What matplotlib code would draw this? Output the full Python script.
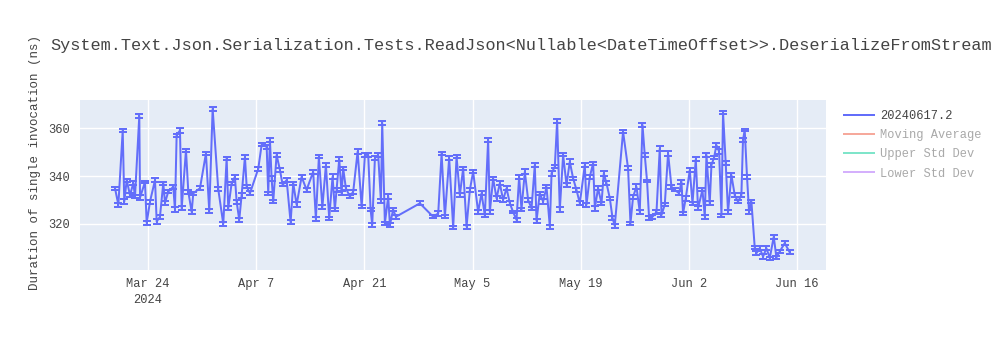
import matplotlib
matplotlib.use("Agg")
import matplotlib.pyplot as plt
import matplotlib.dates as mdates
from matplotlib.lines import Line2D
import pandas as pd

title = "System.Text.Json.Serialization.Tests.ReadJson<Nullable<DateTimeOffset>>.DeserializeFromStream"
y_label = "Duration of single invocation (ns)"
series_name = "20240617.2"
hidden_names = ["Moving Average", "Upper Std Dev", "Lower Std Dev"]

dates = [
    "2024-03-19 17:30", "2024-03-20 04:00", "2024-03-20 17:30", "2024-03-20 22:20", "2024-03-21 06:00",
    "2024-03-21 16:00", "2024-03-22 02:30", "2024-03-22 07:40", "2024-03-22 21:00", "2024-03-22 23:20",
    "2024-03-23 14:40", "2024-03-23 20:00", "2024-03-24 06:10", "2024-03-24 21:50", "2024-03-25 03:00",
    "2024-03-25 13:10", "2024-03-25 23:30", "2024-03-26 04:50", "2024-03-26 15:00", "2024-03-27 06:30",
    "2024-03-27 11:50", "2024-03-27 17:00", "2024-03-28 03:20", "2024-03-28 08:40", "2024-03-28 22:00",
    "2024-03-29 05:10", "2024-03-29 15:40", "2024-03-29 20:40", "2024-03-30 17:30", "2024-03-31 12:00",
    "2024-03-31 22:20", "2024-04-01 08:50", "2024-04-02 02:10", "2024-04-02 17:50", "2024-04-03 04:20",
    "2024-04-03 09:20", "2024-04-03 19:50", "2024-04-04 06:00", "2024-04-04 11:20", "2024-04-04 19:30",
    "2024-04-05 02:50", "2024-04-05 13:10", "2024-04-05 18:30", "2024-04-06 04:40", "2024-04-07 06:30",
    "2024-04-07 17:00", "2024-04-08 08:40", "2024-04-08 13:30", "2024-04-08 18:50", "2024-04-09 00:00",
    "2024-04-09 05:00", "2024-04-09 15:30", "2024-04-10 01:50", "2024-04-10 10:20", "2024-04-10 22:40",
    "2024-04-11 11:00", "2024-04-11 19:10", "2024-04-12 05:40", "2024-04-12 21:10", "2024-04-13 12:40",
    "2024-04-14 09:10", "2024-04-14 17:30", "2024-04-15 02:50", "2024-04-15 13:40", "2024-04-16 00:40",
    "2024-04-16 10:50", "2024-04-16 21:20", "2024-04-17 04:30", "2024-04-17 09:50", "2024-04-17 18:00",
    "2024-04-18 01:20", "2024-04-18 06:20", "2024-04-18 14:40", "2024-04-19 03:10", "2024-04-19 13:30",
    "2024-04-20 03:10", "2024-04-20 15:40", "2024-04-21 01:50", "2024-04-21 12:00", "2024-04-21 19:30",
    "2024-04-22 00:30", "2024-04-22 08:50", "2024-04-22 19:00", "2024-04-23 03:30", "2024-04-23 07:30",
    "2024-04-23 15:50", "2024-04-24 02:10", "2024-04-24 07:30", "2024-04-24 17:30", "2024-04-25 02:00",
    "2024-04-28 04:30", "2024-04-29 21:50", "2024-04-30 13:30", "2024-05-01 00:00", "2024-05-01 10:10",
    "2024-05-01 23:30", "2024-05-02 12:00", "2024-05-02 22:30", "2024-05-03 08:40", "2024-05-03 19:00",
    "2024-05-04 05:30", "2024-05-04 15:50", "2024-05-05 02:00", "2024-05-05 17:30", "2024-05-06 04:00",
    "2024-05-06 14:20", "2024-05-07 00:30", "2024-05-07 05:50", "2024-05-07 16:00", "2024-05-08 02:40",
    "2024-05-08 12:50", "2024-05-08 23:00", "2024-05-09 09:40", "2024-05-09 20:00", "2024-05-10 06:10",
    "2024-05-10 16:40", "2024-05-11 00:50", "2024-05-11 08:10", "2024-05-11 18:30", "2024-05-12 04:50",
    "2024-05-12 15:20", "2024-05-13 01:30", "2024-05-13 06:50", "2024-05-13 17:00", "2024-05-14 03:20",
    "2024-05-14 13:50", "2024-05-15 00:10", "2024-05-15 05:30", "2024-05-15 15:40", "2024-05-15 22:50",
    "2024-05-16 07:10", "2024-05-16 17:30", "2024-05-17 04:00", "2024-05-17 14:10", "2024-05-18 00:30",
    "2024-05-18 11:00", "2024-05-18 21:20", "2024-05-19 12:50", "2024-05-19 18:00", "2024-05-20 04:20",
    "2024-05-20 14:40", "2024-05-20 20:00", "2024-05-21 06:00", "2024-05-21 16:40", "2024-05-21 23:50",
    "2024-05-22 08:10", "2024-05-22 18:30", "2024-05-23 02:50", "2024-05-23 09:50", "2024-05-24 11:40",
    "2024-05-25 03:10", "2024-05-25 10:40", "2024-05-25 18:50", "2024-05-26 05:20", "2024-05-26 15:30",
    "2024-05-27 00:00", "2024-05-27 07:00", "2024-05-27 14:10", "2024-05-27 20:30", "2024-05-28 07:00",
    "2024-05-28 19:30", "2024-05-29 05:40", "2024-05-29 11:00", "2024-05-29 21:10", "2024-05-30 07:30",
    "2024-05-30 18:00", "2024-05-31 04:20", "2024-05-31 17:40", "2024-06-01 01:00", "2024-06-01 06:00",
    "2024-06-01 14:20", "2024-06-02 02:50", "2024-06-02 11:20", "2024-06-02 21:30", "2024-06-03 04:30",
    "2024-06-03 18:10", "2024-06-04 01:30", "2024-06-04 06:40", "2024-06-04 16:50", "2024-06-04 22:10",
    "2024-06-05 06:10", "2024-06-05 13:40", "2024-06-05 21:50", "2024-06-06 05:20", "2024-06-06 10:10",
    "2024-06-06 18:30", "2024-06-07 01:40", "2024-06-07 12:10", "2024-06-07 22:30", "2024-06-08 08:40",
    "2024-06-08 19:10", "2024-06-09 00:10", "2024-06-09 05:30", "2024-06-09 12:40", "2024-06-09 19:00",
    "2024-06-10 02:20", "2024-06-10 12:40", "2024-06-10 18:00", "2024-06-11 04:10", "2024-06-11 14:30",
    "2024-06-12 01:00", "2024-06-12 11:20", "2024-06-12 23:40", "2024-06-13 08:00", "2024-06-13 18:10",
    "2024-06-14 09:50", "2024-06-15 01:10",
]

values = [
    334.9, 328.0, 359.0, 329.3, 338.3, 332.0, 337.0, 331.4, 365.0, 331.0,
    337.5, 320.4, 329.3, 338.3, 321.0, 323.0, 337.0, 328.8, 333.5, 335.5,
    326.0, 357.0, 359.0, 326.5, 350.8, 333.5, 325.0, 332.8, 334.9, 349.4,
    325.4, 368.0, 334.6, 320.0, 347.4, 326.5, 337.0, 339.7, 329.3, 321.7,
    332.0, 348.0, 335.5, 332.8, 343.0, 353.0, 352.2, 332.8, 355.0, 339.0,
    329.3, 348.8, 342.5, 336.3, 338.3, 320.7, 337.0, 328.0, 339.7, 334.2,
    341.8, 322.0, 348.0, 327.0, 344.6, 322.4, 339.7, 326.0, 334.2, 347.0,
    332.8, 343.2, 334.9, 331.4, 333.5, 350.2, 327.2, 348.8, 348.8, 326.0,
    319.6, 347.4, 348.8, 329.6, 362.2, 320.3, 331.4, 319.6, 326.0, 323.0,
    328.6, 323.0, 324.4, 349.4, 323.0, 347.4, 318.5, 348.0, 332.0, 343.2,
    318.9, 334.2, 341.8, 325.0, 332.8, 323.5, 355.0, 325.0, 339.0, 330.7,
    337.0, 330.0, 334.9, 328.6, 325.0, 321.7, 339.7, 326.0, 341.8, 330.0,
    326.5, 344.6, 321.3, 332.8, 329.3, 335.5, 318.9, 341.1, 343.9, 362.9,
    326.0, 348.8, 336.3, 346.0, 339.0, 334.2, 328.6, 344.6, 328.0, 339.7,
    345.3, 326.5, 334.9, 328.6, 341.1, 337.0, 330.7, 322.6, 319.2, 358.5,
    343.2, 320.3, 331.4, 335.5, 325.0, 361.3, 348.8, 337.9, 322.4, 323.0,
    325.0, 351.5, 323.7, 328.0, 349.4, 335.5, 334.2, 332.8, 337.6, 324.4,
    330.7, 342.5, 328.6, 347.0, 326.5, 334.2, 323.0, 348.8, 328.6, 344.6,
    347.6, 352.9, 350.2, 323.7, 366.5, 345.3, 325.0, 340.4, 332.0, 329.3,
    332.0, 355.0, 359.2, 339.7, 325.0, 329.3, 310.1, 307.8, 309.9, 306.4,
    309.9, 305.7, 314.7, 306.0, 308.5, 312.0, 308.2,
]

errors = [
    0.7, 0.9, 0.8, 1.0, 0.6, 0.8, 0.9, 0.7, 0.8, 1.1,
    0.6, 0.9, 0.8, 0.7, 1.0, 0.8, 0.6, 0.9, 0.7, 0.8,
    1.0, 0.7, 0.9, 0.8, 0.6, 0.8, 1.0, 0.7, 0.9, 0.8,
    0.7, 0.8, 0.9, 1.0, 0.7, 0.8, 0.6, 0.9, 0.8, 0.7,
    1.0, 0.8, 0.7, 0.9, 0.8, 0.6, 0.9, 0.7, 0.8, 1.0,
    0.7, 0.8, 0.9, 0.6, 0.8, 0.9, 0.7, 1.0, 0.8, 0.7,
    0.9, 0.8, 0.6, 0.9, 0.8, 0.7, 1.0, 0.8, 0.7, 0.9,
    0.8, 0.6, 0.9, 0.7, 0.8, 1.0, 0.7, 0.8, 0.9, 0.6,
    0.8, 0.9, 0.7, 1.0, 0.8, 0.7, 0.9, 0.8, 0.6, 0.9,
    0.8, 0.7, 1.0, 0.8, 0.7, 0.9, 0.8, 0.6, 0.9, 0.7,
    0.8, 1.0, 0.7, 0.8, 0.9, 0.6, 0.8, 0.9, 0.7, 1.0,
    0.8, 0.7, 0.9, 0.8, 0.6, 0.9, 0.8, 0.7, 1.0, 0.8,
    0.7, 0.9, 0.8, 0.6, 0.9, 0.7, 0.8, 1.0, 0.7, 0.8,
    0.9, 0.6, 0.8, 0.9, 0.7, 1.0, 0.8, 0.7, 0.9, 0.8,
    0.6, 0.9, 0.8, 0.7, 1.0, 0.8, 0.7, 0.9, 0.8, 0.6,
    0.9, 0.7, 0.8, 1.0, 0.7, 0.8, 0.9, 0.6, 0.8, 0.9,
    0.7, 1.0, 0.8, 0.7, 0.9, 0.8, 0.6, 0.9, 0.8, 0.7,
    1.0, 0.8, 0.7, 0.9, 0.8, 0.6, 0.9, 0.7, 0.8, 1.0,
    0.7, 0.8, 0.9, 0.6, 0.8, 0.9, 0.7, 1.0, 0.8, 0.7,
    0.9, 0.8, 0.6, 0.9, 0.8, 0.7, 0.6, 0.8, 0.7, 0.9,
    0.8, 0.7, 0.9, 0.6, 0.8, 0.7, 0.8,
]

tick_dates = ["2024-03-24", "2024-04-07", "2024-04-21", "2024-05-05", "2024-05-19", "2024-06-02", "2024-06-16"]
tick_labels = ["Mar 24\n2024", "Apr 7", "Apr 21", "May 5", "May 19", "Jun 2", "Jun 16"]
y_ticks = [320, 340, 360]

plt.rcParams["font.family"] = ["Liberation Mono", "DejaVu Sans Mono"]

blue = "#636EFA"
txt = "#444444"

x = pd.to_datetime(dates)

fig = plt.figure(figsize=(10, 3.5), dpi=100)
ax = fig.add_axes([0.08, 0.2286, 0.746, 0.4857])
ax.set_facecolor("#E5ECF6")
for s in ax.spines.values():
    s.set_visible(False)

ax.errorbar(x, values, yerr=errors, color=blue, lw=1.44, elinewidth=1.44,
            capsize=2.9, capthick=1.44, zorder=3)

ax.set_xlim(pd.Timestamp("2024-03-15 04:50"), pd.Timestamp("2024-06-19 18:00"))
ax.set_ylim(300.8, 371.7)
ax.set_xticks(pd.to_datetime(tick_dates))
ax.set_xticklabels(tick_labels, linespacing=1.4)
ax.set_yticks(y_ticks)
ax.grid(True, color="white", lw=1)
ax.set_axisbelow(True)
ax.tick_params(length=0, labelsize=8.64, colors=txt)
ax.tick_params(axis="x", pad=6)
ax.tick_params(axis="y", pad=7)
ax.set_ylabel(y_label, fontsize=9, color=txt)
ax.yaxis.set_label_coords(-0.052, 0.63)

fig.text(0.05, 0.87, title, fontsize=12.2, color=txt, ha="left", va="center")

handles = [Line2D([], [], color=blue, lw=1.44)]
handles += [Line2D([], [], color=c, lw=1.44, alpha=0.5) for c in ["#EF553B", "#00CC96", "#AB63FA"]]
leg = fig.legend(handles, [series_name] + hidden_names, loc="upper left",
                 bbox_to_anchor=(0.838, 0.703), frameon=False, fontsize=8.64,
                 handlelength=2.5, handletextpad=0.5, labelspacing=0.6, borderpad=0)
for i, t in enumerate(leg.get_texts()):
    t.set_color(txt if i == 0 else "#A9A9A9")

fig.savefig("out.png", dpi=100)
